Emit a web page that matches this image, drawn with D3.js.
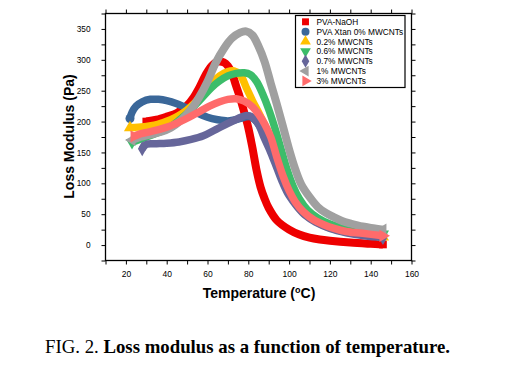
<!DOCTYPE html>
<html><head><meta charset="utf-8">
<script src="https://cdn.jsdelivr.net/npm/d3@7"></script>
<style>body{margin:0;background:#fff;}svg{display:block;}</style>
</head><body>
<svg id="chart" width="530" height="382"></svg>
<script>
// ---- data (temperature °C, loss modulus Pa) ----
const seriesNames = ["PVA-NaOH","PVA Xtan 0% MWCNTs","0.2% MWCNTs","0.6% MWCNTs","0.7% MWCNTs","1% MWCNTs","3% MWCNTs"];
const seriesColors = ["#ee0000","#3a6799","#ffc000","#3cbd6a","#66669a","#a0a0a0","#ff6b6b"];
const seriesSymbols = ["square","circle","up","down","diamond","left","right"];

const pvaNaOH = [[30,200],[35,203],[40,208],[45,214],[50,226],[53,238],[56,255],[59,275],[62,290],[65,297],[68,296],[70,290],[72,278],[74,258],[76,238],[78,215],[80,190],[82,158],[84,122],[86,94],[88,75],[90,60],[94,40],[100,25],[105,17],[110,12],[115,9],[120,7],[130,4],[140,2],[146,1]];
const pvaXtan0 = [[22,205],[23,215],[25,225],[28,232],[32,236],[36,236],[40,234],[45,229],[50,222],[55,214],[60,207],[65,203],[70,201],[74,203],[78,207],[81,208],[84,200],[87,185],[90,165],[93,145],[96,120],[99,97],[102,78],[106,60],[110,48],[115,38],[120,31],[128,24],[137,19],[146,16]];
const mw02 = [[22,190],[26,191],[30,192],[34,194],[38,198],[42,203],[46,210],[50,219],[54,231],[58,246],[62,262],[66,274],[70,281],[73,282],[76,276],[79,255],[82,234],[85,215],[88,195],[91,172],[94,142],[97,112],[100,87],[103,68],[107,52],[112,40],[118,30],[125,23],[135,17],[146,13]];
const mw06 = [[23,166],[26,170],[30,175],[34,180],[38,185],[42,192],[46,202],[50,213],[54,227],[58,241],[62,255],[66,266],[70,274],[74,278],[78,279],[81,276],[84,265],[87,245],[90,220],[93,190],[96,156],[99,122],[102,95],[105,75],[109,57],[114,44],[120,34],[128,26],[137,21],[146,18]];
const mw07 = [[28,156],[30,163],[34,164],[40,165],[46,167],[52,171],[58,177],[64,187],[70,197],[75,205],[79,210],[82,207],[85,195],[88,172],[91,150],[94,125],[97,100],[100,80],[104,62],[108,48],[113,37],[120,27],[128,20],[137,15],[146,12]];
const mw1 = [[23,170],[27,175],[32,179],[37,183],[42,190],[47,202],[52,220],[56,240],[60,265],[64,295],[68,318],[72,335],[76,344],[79,346],[82,340],[85,322],[88,297],[91,262],[94,228],[97,192],[100,155],[103,123],[106,98],[110,78],[114,62],[118,52],[122,45],[126,39],[130,35],[136,30],[142,27],[146,25]];
const mw3 = [[24,176],[27,180],[31,183],[36,187],[41,192],[46,199],[51,207],[56,216],[61,225],[66,232],[70,236],[74,237],[78,233],[82,224],[85,212],[88,196],[91,175],[94,142],[97,112],[100,88],[103,70],[107,54],[112,41],[117,33],[122,27],[128,22],[136,19],[146,15]];
const seriesValues = [pvaNaOH,pvaXtan0,mw02,mw06,mw07,mw1,mw3];

const xTickLabels = [20,40,60,80,100,120,140,160];
const yTickLabels = [0,50,100,150,200,250,300,350];

// ---- layout ----
const svg = d3.select("#chart");
const L = 105.5, R = 411.5, T = 13.5, B = 260.5;
const x = d3.scaleLinear().domain([10,160]).range([L,R]);
const y = d3.scaleLinear().domain([-25,375]).range([B,T]);

const xMinor = d3.range(10,161,10);
const yMinor = d3.range(-25,376,25);
const FONT = "Liberation Sans, Arial, sans-serif";

function tickAxis(axis, minorVals, pos){
  const g = svg.append("g").attr("transform", pos);
  g.call(axis.tickValues(minorVals).tickSize(4).tickFormat(""));
  g.select(".domain").remove();
  g.selectAll("line").attr("stroke","#000").attr("stroke-width",1);
  return g;
}
tickAxis(d3.axisBottom(x), xMinor, `translate(0,${B})`);
tickAxis(d3.axisTop(x), xMinor, `translate(0,${T})`);
tickAxis(d3.axisLeft(y), yMinor, `translate(${L},0)`);
tickAxis(d3.axisRight(y), yMinor, `translate(${R},0)`);

// tick labels
const xl = svg.append("g").attr("transform",`translate(0,${B})`)
  .call(d3.axisBottom(x).tickValues(xTickLabels).tickSize(0).tickPadding(10.5));
xl.select(".domain").remove();
xl.selectAll("text").attr("font-family",FONT).attr("font-size","8.5px").attr("fill","#000");
const yl = svg.append("g").attr("transform",`translate(${L},0)`)
  .call(d3.axisLeft(y).tickValues(yTickLabels).tickSize(0).tickPadding(15));
yl.select(".domain").remove();
yl.selectAll("text").attr("font-family",FONT).attr("font-size","8.3px").attr("fill","#000");

// frame
svg.append("rect").attr("x",L).attr("y",T).attr("width",R-L).attr("height",B-T)
  .attr("fill","none").attr("stroke","#000").attr("stroke-width",1.3);

// ---- series ----
const symType = {square:d3.symbolSquare,circle:d3.symbolCircle,diamond:d3.symbolDiamond,up:d3.symbolTriangle,down:d3.symbolTriangle,left:d3.symbolTriangle,right:d3.symbolTriangle};
const symRot = {up:0,down:180,left:-90,right:90,square:0,circle:0,diamond:0};

const line = d3.line().x(d=>x(d[0])).y(d=>y(d[1])).curve(d3.curveCatmullRom.alpha(0.5));
const plot = svg.append("g");
seriesValues.forEach((vals,i)=>{
  const w = (i===0 || i===5) ? 8 : 7.5;
  plot.append("path").attr("d",line(vals)).attr("fill","none")
    .attr("stroke",seriesColors[i]).attr("stroke-width",w).attr("stroke-linejoin","round");
  const ends = [vals[0], vals[vals.length-1]];
  plot.selectAll(null).data(ends).enter().append("path")
    .attr("d", d3.symbol().type(symType[seriesSymbols[i]]).size(seriesSymbols[i]==="square"?60:64))
    .attr("transform", d=>`translate(${x(d[0])},${y(d[1])}) rotate(${symRot[seriesSymbols[i]]})`)
    .attr("fill",seriesColors[i]);
});

// ---- legend ----
const lg = svg.append("g");
lg.append("rect").attr("x",295.5).attr("y",15.5).attr("width",109.5).attr("height",72)
  .attr("fill","#fff").attr("stroke","#000").attr("stroke-width",1.2);
seriesNames.forEach((n,i)=>{
  const cy = 21.8 + i*9.85;
  lg.append("path")
    .attr("d", d3.symbol().type(symType[seriesSymbols[i]]).size(seriesSymbols[i]==="square"?48:50))
    .attr("transform",`translate(305.5,${cy}) rotate(${symRot[seriesSymbols[i]]})`)
    .attr("fill",seriesColors[i]);
  lg.append("text").attr("x",316.5).attr("y",cy+3.1).text(n)
    .attr("font-family",FONT).attr("font-size","8.3px").attr("fill","#000");
});

// ---- axis titles ----
svg.append("text").attr("transform",`translate(73.5,136.5) rotate(-90)`).attr("text-anchor","middle")
  .attr("font-family",FONT).attr("font-size","14px").attr("font-weight","bold")
  .text("Loss Modulus (Pa)");
const xt = svg.append("text").attr("x",259).attr("y",298).attr("text-anchor","middle")
  .attr("font-family",FONT).attr("font-size","14px").attr("font-weight","bold");
xt.append("tspan").text("Temperature (");
xt.append("tspan").attr("dy",-5.5).attr("font-size","9px").text("o");
xt.append("tspan").attr("dy",5.5).text("C)");

// ---- caption ----
const cap = svg.append("text").attr("x",45).attr("y",352.5)
  .attr("font-family","Liberation Serif, Times New Roman, serif").attr("font-size","18.8px").attr("fill","#000");
cap.append("tspan").text("FIG. 2. ");
cap.append("tspan").attr("font-weight","bold").text("Loss modulus as a function of temperature.");
</script>
</body></html>
